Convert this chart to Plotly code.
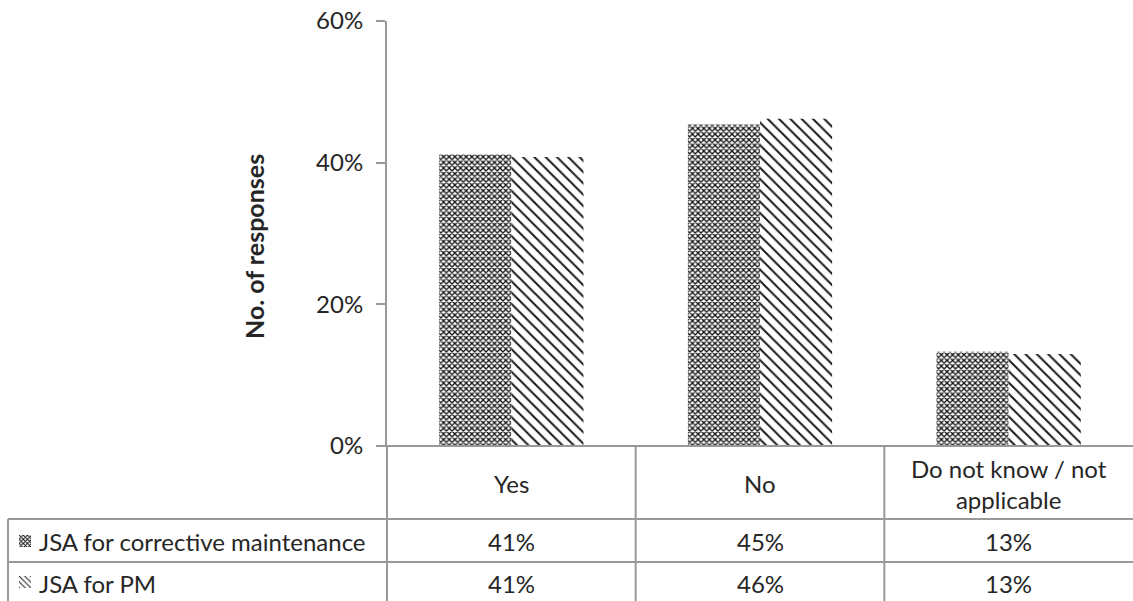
import plotly.graph_objects as go

categories = ["Yes", "No", "Do not know / not applicable"]
header_labels = ["Yes", "No", "Do not know / not<br>applicable"]
series_names = ["JSA for corrective maintenance", "JSA for PM"]
corrective = [0.412, 0.454, 0.133]
pm = [0.408, 0.462, 0.130]
table_corrective = ["41%", "45%", "13%"]
table_pm = ["41%", "46%", "13%"]
y_ticks = [0, 0.2, 0.4, 0.6]

W, H = 1133, 601
FONT = "Lato"
TXT = "#262626"
LINE = "#999999"
FS = 24

def px(x):
    return x / W

def py(y):
    return 1 - y / H

checker = dict(shape="x", size=4, solidity=0.55, fgcolor="#111111", bgcolor="white", fillmode="replace")
stripes = dict(shape="\\", size=8, solidity=0.25, fgcolor="#1a1a1a", bgcolor="white", fillmode="replace")

fig = go.Figure()
fig.add_trace(go.Bar(x=categories, y=corrective, name=series_names[0],
                     marker=dict(color="white", pattern=checker, line=dict(width=0))))
fig.add_trace(go.Bar(x=categories, y=pm, name=series_names[1],
                     marker=dict(color="white", pattern=stripes, line=dict(width=0))))

# legend keys inside the data table
fig.add_trace(go.Bar(x=[0], y=[1], xaxis="x2", yaxis="y2", width=1, showlegend=False,
                     marker=dict(color="white", pattern=dict(checker, size=3), line=dict(width=0)), hoverinfo="skip"))
fig.add_trace(go.Bar(x=[0], y=[1], xaxis="x3", yaxis="y3", width=1, showlegend=False,
                     marker=dict(color="white", pattern=dict(stripes, size=4), line=dict(width=0)), hoverinfo="skip"))

x0, x1 = 387, 1133
y_top, y_zero = 21, 446

fig.update_layout(
    template="none",
    width=W, height=H,
    margin=dict(l=0, r=0, t=0, b=0, pad=0, autoexpand=False),
    paper_bgcolor="white", plot_bgcolor="white",
    showlegend=False,
    barmode="group", bargap=0.42, bargroupgap=0,
    font=dict(family=FONT, size=FS, color=TXT),
    xaxis=dict(domain=[px(x0), px(x1)], range=[-0.5, 2.5], showticklabels=False, automargin=False,
               showline=False, ticks="", showgrid=False, zeroline=False, fixedrange=True),
    yaxis=dict(domain=[py(y_zero), py(y_top)], range=[0, 0.6], tickvals=y_ticks, automargin=False,
               tickformat=".0%", showgrid=False, zeroline=False, showline=True,
               linecolor=LINE, linewidth=2, ticks="outside", ticklen=9, tickwidth=2,
               tickcolor=LINE, ticklabelstandoff=8, tickfont=dict(family=FONT, size=FS, color=TXT)),
    xaxis2=dict(domain=[px(19), px(31)], range=[-0.5, 0.5], visible=False, fixedrange=True, automargin=False),
    yaxis2=dict(domain=[py(547), py(535)], range=[0, 1], visible=False, anchor="x2", fixedrange=True, automargin=False),
    xaxis3=dict(domain=[px(19), px(31)], range=[-0.5, 0.5], visible=False, fixedrange=True, automargin=False),
    yaxis3=dict(domain=[py(588), py(576)], range=[0, 1], visible=False, anchor="x3", fixedrange=True, automargin=False),
)
fig.data[2].update(xaxis="x2", yaxis="y2")
fig.data[3].update(xaxis="x3", yaxis="y3")

shapes = []
def hline(xa, xb, y):
    shapes.append(dict(type="line", xref="paper", yref="paper", x0=px(xa), x1=px(xb), y0=py(y), y1=py(y),
                       line=dict(color=LINE, width=2)))
def vline(x, ya, yb):
    shapes.append(dict(type="line", xref="paper", yref="paper", x0=px(x), x1=px(x), y0=py(ya), y1=py(yb),
                       line=dict(color=LINE, width=2)))

hline(378, 1133, y_zero)
hline(8, 1133, 519)
hline(8, 1133, 562)
hline(8, 1133, 606)
vline(387, y_zero, 610)
vline(8, 519, 610)
# category separators via x axis
for b in [0.5, 1.5]:
    shapes.append(dict(type="line", xref="x", yref="paper", x0=b, x1=b, y0=py(y_zero), y1=py(610),
                       line=dict(color=LINE, width=2)))
fig.update_layout(shapes=shapes)

ann = []
for i, cat in enumerate(categories):
    ann.append(dict(x=cat, xref="x", y=py(484), yref="paper", text=header_labels[i], showarrow=False,
                    xanchor="center", yanchor="middle", font=dict(family=FONT, size=FS, color=TXT)))
    ann.append(dict(x=cat, xref="x", y=py(541), yref="paper", text=table_corrective[i], showarrow=False,
                    xanchor="center", yanchor="middle", font=dict(family=FONT, size=FS, color=TXT)))
    ann.append(dict(x=cat, xref="x", y=py(583), yref="paper", text=table_pm[i], showarrow=False,
                    xanchor="center", yanchor="middle", font=dict(family=FONT, size=FS, color=TXT)))
ann.append(dict(x=px(37), xref="paper", y=py(541), yref="paper", text=series_names[0], showarrow=False,
                xanchor="left", yanchor="middle", font=dict(family=FONT, size=FS, color=TXT)))
ann.append(dict(x=px(37), xref="paper", y=py(583), yref="paper", text=series_names[1], showarrow=False,
                xanchor="left", yanchor="middle", font=dict(family=FONT, size=FS, color=TXT)))
ann.append(dict(x=px(254), xref="paper", y=py(247), yref="paper", text="<b>No. of responses</b>",
                showarrow=False, textangle=-90, xanchor="center", yanchor="middle",
                font=dict(family=FONT, size=25, color=TXT)))
fig.update_layout(annotations=ann)

fig.write_html("out.html")
